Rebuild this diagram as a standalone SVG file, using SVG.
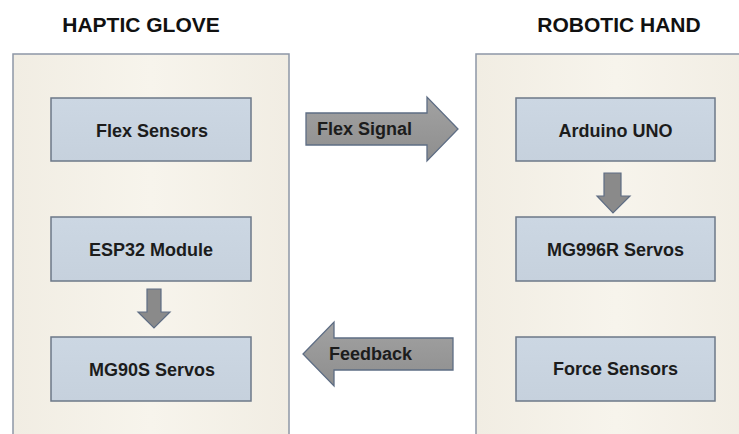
<svg xmlns="http://www.w3.org/2000/svg" width="739" height="434" viewBox="0 0 739 434">
  <defs>
    <linearGradient id="panelGrad" x1="0" y1="0" x2="1" y2="0">
      <stop offset="0" stop-color="#f1ede3"/>
      <stop offset="0.5" stop-color="#f7f4ec"/>
      <stop offset="1" stop-color="#f1ede3"/>
    </linearGradient>
    <linearGradient id="boxGrad" x1="0" y1="0" x2="0" y2="1">
      <stop offset="0" stop-color="#ccd7e3"/>
      <stop offset="1" stop-color="#c6d1dd"/>
    </linearGradient>
    <linearGradient id="arrowGrad" x1="0" y1="0" x2="0" y2="1">
      <stop offset="0" stop-color="#a2a2a2"/>
      <stop offset="1" stop-color="#8e8e8e"/>
    </linearGradient>
  </defs>
  <style>
    .title { font-family: "Liberation Sans", Arial, sans-serif; font-weight: bold; font-size: 21px; fill: #111; text-anchor: middle; }
    .panel { fill: url(#panelGrad); stroke: #8d97a6; stroke-width: 1.5; }
    .box { fill: url(#boxGrad); stroke: #6c7888; stroke-width: 1.5; }
    .label { font-family: "Liberation Sans", Arial, sans-serif; font-weight: bold; font-size: 18px; fill: #1c1c1c; text-anchor: middle; }
    .arrowlbl { font-family: "Liberation Sans", Arial, sans-serif; font-weight: bold; font-size: 18px; fill: #1c1c1c; }
    .bigarrow { fill: url(#arrowGrad); stroke: #5e6d84; stroke-width: 1.3; stroke-linejoin: miter; }
    .smallarrow { fill: #8a8a8a; stroke: #5e6d84; stroke-width: 1.2; }
  </style>
  <rect width="739" height="434" fill="#ffffff"/>

  <g id="haptic-glove">
    <text class="title" x="141" y="32">HAPTIC GLOVE</text>
    <rect class="panel" x="13" y="54" width="276" height="390"/>
  </g>
  <g id="robotic-hand">
    <text class="title" x="619" y="32">ROBOTIC HAND</text>
    <rect class="panel" x="476" y="54" width="280" height="390"/>
  </g>

  <g id="flex-sensors">
    <rect class="box" x="51" y="98" width="200" height="63"/>
    <text class="label" x="152" y="136.5">Flex Sensors</text>
  </g>
  <g id="esp32-module">
    <rect class="box" x="51" y="217" width="200" height="64"/>
    <text class="label" x="151" y="256">ESP32 Module</text>
  </g>
  <g id="mg90s-servos">
    <rect class="box" x="51" y="337" width="200" height="64"/>
    <text class="label" x="152" y="375.5">MG90S Servos</text>
  </g>
  <g id="arduino-uno">
    <rect class="box" x="516" y="98" width="199" height="63"/>
    <text class="label" x="615.5" y="136.5">Arduino UNO</text>
  </g>
  <g id="mg996r-servos">
    <rect class="box" x="516" y="217" width="199" height="64"/>
    <text class="label" x="615.5" y="256">MG996R Servos</text>
  </g>
  <g id="force-sensors">
    <rect class="box" x="516" y="337" width="199" height="64"/>
    <text class="label" x="615.5" y="375">Force Sensors</text>
  </g>

  <g id="connectors">
    <g id="flex-signal">
      <polygon class="bigarrow" points="306,113 427,113 427,97 458,129 427,161 427,145 306,145"/>
      <text class="arrowlbl" x="317" y="135">Flex Signal</text>
    </g>
    <g id="feedback">
      <polygon class="bigarrow" points="453,338 334,338 334,322 303,354 334,386 334,370 453,370"/>
      <text class="arrowlbl" x="329" y="360">Feedback</text>
    </g>
    <polygon class="smallarrow" points="147,289 161,289 161,312 170,312 154,328 138,312 147,312"/>
    <polygon class="smallarrow" points="604,173 621,173 621,196 630,196 613,213 597,196 604,196"/>
  </g>
</svg>
